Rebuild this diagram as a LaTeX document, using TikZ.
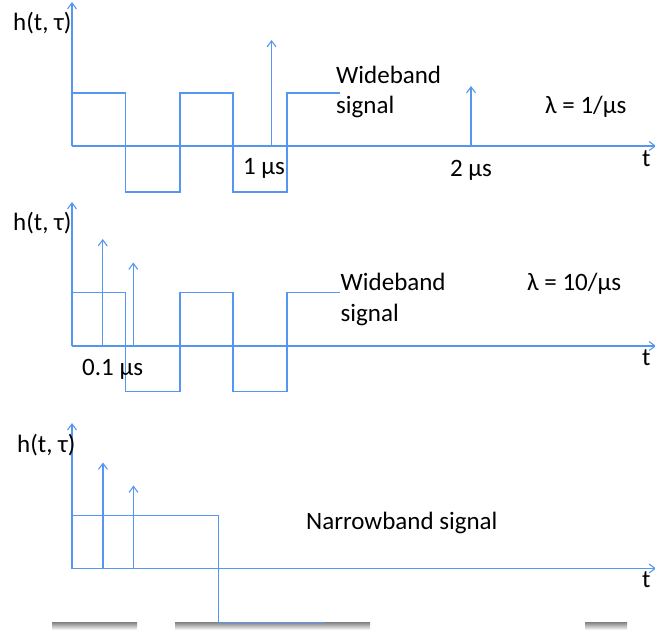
\documentclass[tikz,border=0pt]{standalone}
\usepackage{fontspec}
\setmainfont{Carlito}
\usetikzlibrary{arrows.meta}
\definecolor{sig}{RGB}{85,150,240}
\definecolor{shade}{RGB}{236,236,236}
\tikzset{
  wave/.style={draw=sig, line width=1.2pt, line join=miter},
  axis/.style={draw=sig, line width=1.2pt, -{Straight Barb[length=6pt,width=9pt,line width=1.1pt]}},
  lbl/.style={inner sep=0pt, anchor=base west, font=\fontsize{25}{29}\selectfont},
  lblc/.style={inner sep=0pt, anchor=base, font=\fontsize{25}{29}\selectfont}
}
\begin{document}
\begin{tikzpicture}[x=1pt,y=-1pt]
\useasboundingbox (0,0) rectangle (655,630);
% bottom shadow strip
\fill[shade] (52,622) rectangle (137,630);
\fill[shade] (175,622) rectangle (370,630);
\fill[shade] (585,622) rectangle (627,630);

% ---------- Panel 1 ----------
\coordinate (o1) at (72,146);
\coordinate (y1) at (72,2);
\coordinate (x1) at (656,146);
\draw[axis] (o1) -- (y1);
\draw[axis] (o1) -- (x1);
\draw[wave] (72,93) -- (125.5,93) -- (125.5,192) -- (180,192) -- (180,93) -- (233,93) -- (233,192) -- (287,192) -- (287,93) -- (340,93);
\coordinate (i1a) at (271.5,146); \coordinate (i1at) at (271.5,40);
\coordinate (i1b) at (471,146); \coordinate (i1bt) at (471,86);
\draw[axis] (i1a) -- (i1at);
\draw[axis] (i1b) -- (i1bt);
\node[lbl] (h1) at (13,30) {h(t, τ)};
\node[lblc] (m1) at (264,174) {1 µs};
\node[lblc] (m2) at (471,176) {2 µs};
\node[lbl] (w1a) at (336,83) {Wideband};
\node[lbl] (w1b) at (336,113) {signal};
\node[lbl] (l1) at (545,113) {λ = 1/µs};
\node[lbl] (t1) at (642,166) {t};

% ---------- Panel 2 ----------
\coordinate (o2) at (72,346);
\coordinate (y2) at (72,202);
\coordinate (x2) at (656,346);
\draw[axis] (o2) -- (y2);
\draw[axis] (o2) -- (x2);
\draw[wave] (72,292.5) -- (125.5,292.5) -- (125.5,391.5) -- (180,391.5) -- (180,292.5) -- (233,292.5) -- (233,391.5) -- (287,391.5) -- (287,292.5) -- (340,292.5);
\coordinate (i2a) at (102.7,346); \coordinate (i2at) at (102.7,239);
\coordinate (i2b) at (133.3,346); \coordinate (i2bt) at (133.3,262.5);
\draw[axis] (i2a) -- (i2at);
\draw[axis] (i2b) -- (i2bt);
\node[lbl] (h2) at (13,230) {h(t, τ)};
\node[lbl] (m3) at (82,375.5) {0.1 µs};
\node[lbl] (w2a) at (340.5,290.5) {Wideband};
\node[lbl] (w2b) at (340.5,321.5) {signal};
\node[lbl] (l2) at (527,290.5) {λ = 10/µs};
\node[lbl] (t2) at (642,365) {t};

% ---------- Panel 3 ----------
\coordinate (o3) at (72,568.5);
\coordinate (y3) at (72,423);
\coordinate (x3) at (656,568.5);
\draw[axis] (o3) -- (y3);
\draw[axis] (o3) -- (x3);
\draw[wave] (72,515.5) -- (218.3,515.5) -- (218.3,622.3) -- (325,622.3);
\coordinate (i3a) at (103,568.5); \coordinate (i3at) at (103,462.5);
\coordinate (i3b) at (133.5,568.5); \coordinate (i3bt) at (133.5,485.5);
\draw[axis] (i3a) -- (i3at);
\draw[axis] (i3b) -- (i3bt);
\node[lbl] (h3) at (17,452) {h(t, τ)};
\node[lbl] (nb) at (306,529) {Narrowband signal};
\node[lbl] (t3) at (642,587) {t};
\end{tikzpicture}
\end{document}
